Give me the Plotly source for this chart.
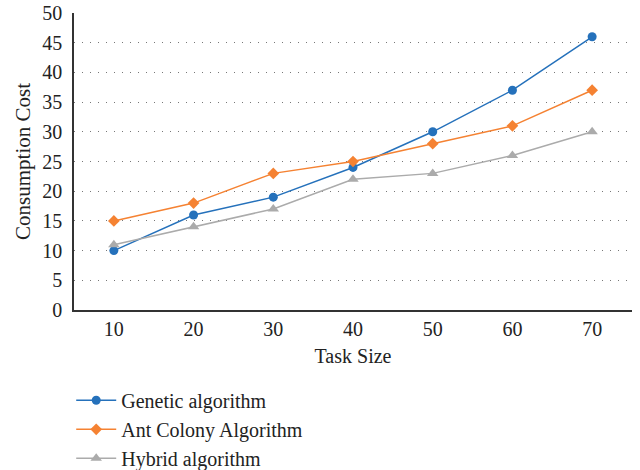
import plotly.graph_objects as go

task_size = [10, 20, 30, 40, 50, 60, 70]
genetic = [10, 16, 19, 24, 30, 37, 46]
ant_colony = [15, 18, 23, 25, 28, 31, 37]
hybrid = [11, 14, 17, 22, 23, 26, 30]

FONT = "Liberation Serif"
FS = 21

fig = go.Figure()
fig.add_trace(go.Scatter(x=task_size, y=genetic, name="Genetic algorithm", mode="lines+markers",
                         line=dict(color="#2571BB", width=1.5),
                         marker=dict(symbol="circle", size=9, color="#2571BB")))
fig.add_trace(go.Scatter(x=task_size, y=ant_colony, name="Ant Colony Algorithm", mode="lines+markers",
                         line=dict(color="#F58232", width=1.5),
                         marker=dict(symbol="diamond", size=9, color="#F58232")))
fig.add_trace(go.Scatter(x=task_size, y=hybrid, name="Hybrid algorithm", mode="lines+markers",
                         line=dict(color="#ABABAB", width=1.5),
                         marker=dict(symbol="triangle-up", size=10, color="#ABABAB")))

fig.update_layout(
    width=640, height=470,
    margin=dict(l=74, r=8, t=13, b=160, autoexpand=False),
    paper_bgcolor="white", plot_bgcolor="white",
    font=dict(family=FONT, size=FS, color="#222222"),
    showlegend=True,
    legend=dict(orientation="v", x=-0.005, xanchor="left", y=-0.565, yanchor="bottom",
                font=dict(family=FONT, size=20, color="#222222"),
                tracegroupgap=0, itemwidth=40, bgcolor="rgba(0,0,0,0)"),
    xaxis=dict(range=[5, 75], tickvals=task_size, ticks="", showgrid=False,
               showline=True, linecolor="#333333", linewidth=1.5,
               title=dict(text="Task Size", font=dict(family=FONT, size=FS - 1), standoff=10),
               tickfont=dict(family=FONT, size=FS - 1), zeroline=False),
    yaxis=dict(range=[0, 50], dtick=5, ticks="", showgrid=True,
               gridcolor="#777777", griddash="1px,7px", gridwidth=1.2,
               showline=True, linecolor="#333333", linewidth=1.5, ticklabelstandoff=6,
               title=dict(text="Consumption Cost", font=dict(family=FONT, size=FS), standoff=6),
               tickfont=dict(family=FONT, size=FS - 1), zeroline=False),
)

fig.write_html("out.html")
